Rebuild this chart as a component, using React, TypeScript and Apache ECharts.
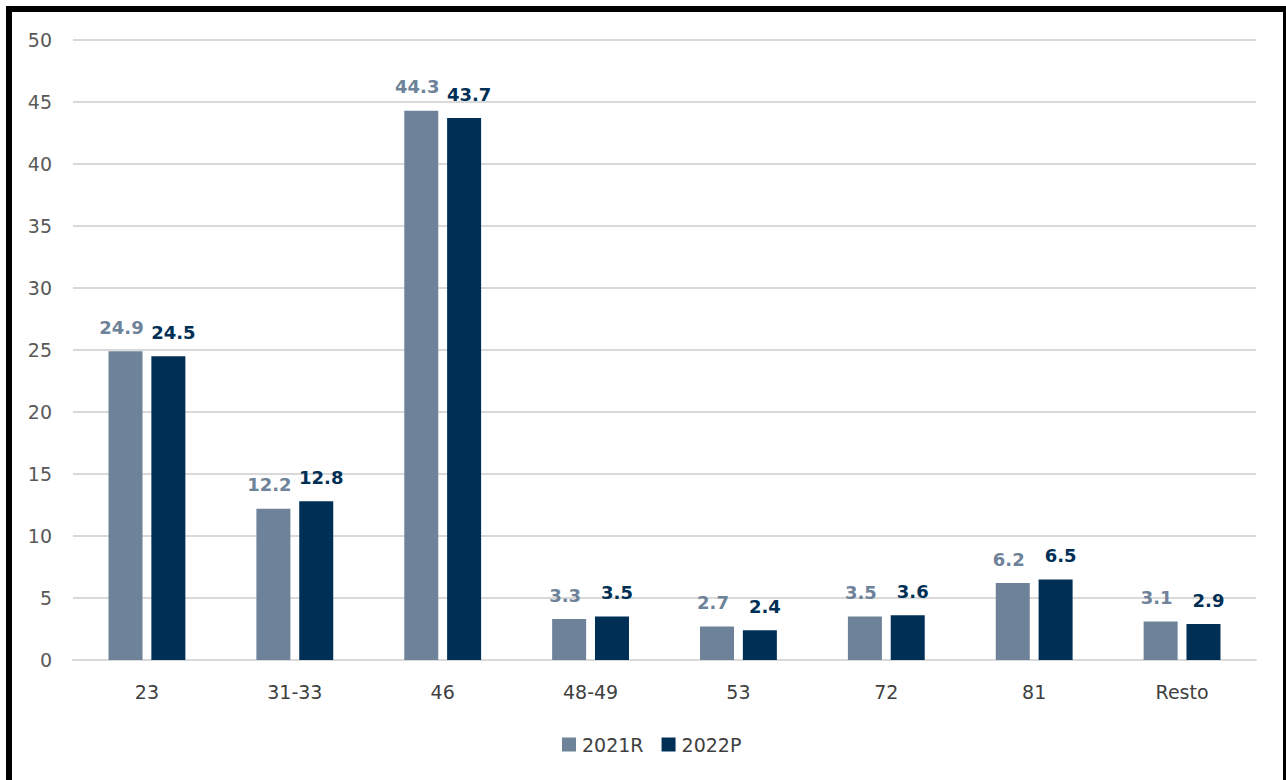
import React, { useEffect, useRef } from "react";
import * as echarts from "echarts";

const categories = ["23", "31-33", "46", "48-49", "53", "72", "81", "Resto"];
const series2021R = [24.9, 12.2, 44.3, 3.3, 2.7, 3.5, 6.2, 3.1];
const series2022P = [24.5, 12.8, 43.7, 3.5, 2.4, 3.6, 6.5, 2.9];
const seriesNames = ["2021R", "2022P"];

const FONT = "'DejaVu Sans', 'Open Sans', sans-serif";
const C1 = "#6E8399";
const C2 = "#002F56";

export default function App() {
  const ref = useRef<HTMLDivElement>(null);
  useEffect(() => {
    document.body.style.margin = "0";
    const chart = echarts.init(ref.current!, undefined, { renderer: "svg" });
    chart.setOption({
      animation: false,
      textStyle: { fontFamily: FONT },
      grid: { left: 73, right: 30, top: 40, bottom: 120, containLabel: false },
      legend: {
        data: seriesNames,
        bottom: 21,
        left: 557,
        itemWidth: 14,
        itemHeight: 14,
        itemGap: 18,
        icon: "rect",
        textStyle: { fontFamily: FONT, fontSize: 19, color: "#404040", padding: [0, 0, 0, 1] },
      },
      xAxis: {
        type: "category",
        data: categories,
        axisLine: { lineStyle: { color: "#D9D9D9", width: 2 } },
        axisTick: { show: false },
        axisLabel: { fontFamily: FONT, fontSize: 19, color: "#404040", margin: 22 },
      },
      yAxis: {
        type: "value",
        min: 0,
        max: 50,
        interval: 5,
        axisLine: { show: false },
        axisTick: { show: false },
        splitLine: { lineStyle: { color: "#D9D9D9", width: 2 } },
        axisLabel: { fontFamily: FONT, fontSize: 19, color: "#595959", margin: 21 },
      },
      series: [
        {
          name: seriesNames[0],
          type: "bar",
          data: series2021R,
          barWidth: 34,
          barGap: "26%",
          itemStyle: { color: C1 },
          label: {
            show: true,
            position: "top",
            distance: 15,
            offset: [-4, 0],
            formatter: (p: any) => p.value.toFixed(1),
            fontFamily: FONT,
            fontSize: 18,
            fontWeight: "bold",
            color: C1,
          },
        },
        {
          name: seriesNames[1],
          type: "bar",
          data: series2022P,
          barWidth: 34,
          itemStyle: { color: C2 },
          label: {
            show: true,
            position: "top",
            distance: 15,
            offset: [5, 0],
            formatter: (p: any) => p.value.toFixed(1),
            fontFamily: FONT,
            fontSize: 18,
            fontWeight: "bold",
            color: C2,
          },
        },
      ],
    });
    return () => chart.dispose();
  }, []);
  return (
    <div style={{ position: "absolute", left: 0, top: 0, width: 1286, height: 780, background: "#fff", overflow: "hidden" }}>
      <div ref={ref} style={{ position: "absolute", left: 0, top: 0, width: 1286, height: 780 }} />
      <div
        style={{
          position: "absolute",
          left: 6,
          top: 6,
          width: 1271,
          height: 800,
          borderLeft: "6px solid #000",
          borderTop: "6px solid #000",
          borderRight: "6px solid #000",
          pointerEvents: "none",
        }}
      />
    </div>
  );
}
